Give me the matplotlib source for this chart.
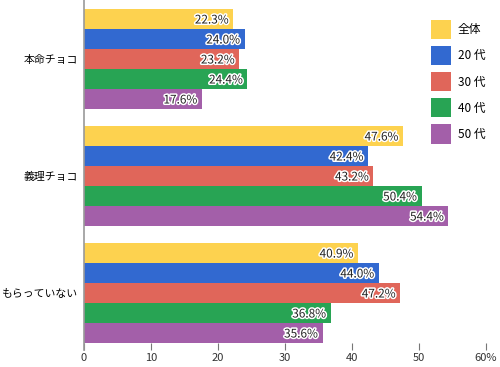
import matplotlib
matplotlib.use("Agg")
import matplotlib.pyplot as plt
import matplotlib.patheffects as pe
from matplotlib.patches import Patch

plt.rcParams['font.family'] = ['Noto Sans CJK JP', 'DejaVu Sans']

categories = ["本命チョコ", "義理チョコ", "もらっていない"]
series = ["全体", "20 代", "30 代", "40 代", "50 代"]
values = {
    "全体": [22.3, 47.6, 40.9],
    "20 代": [24.0, 42.4, 44.0],
    "30 代": [23.2, 43.2, 47.2],
    "40 代": [24.4, 50.4, 36.8],
    "50 代": [17.6, 54.4, 35.6],
}
xticks = [0, 10, 20, 30, 40, 50, 60]
xticklabels = ["0", "10", "20", "30", "40", "50", "60%"]
colors = ["#FDD24F", "#3269D0", "#E0665A", "#28A454", "#A35FA9"]

fig = plt.figure(figsize=(5, 3.67), dpi=100)
ax = fig.add_axes([0.168, 0.0654, 0.804, 0.9346])

group_gap = 5.85
first = 0.45
for si, s in enumerate(series):
    for ci, v in enumerate(values[s]):
        y = first + ci * group_gap + si + 0.5
        ax.barh(y, v, height=1.0, color=colors[si])
        t = ax.text(v - 0.7, y + 0.05, f"{v:.1f}%", ha="right", va="center",
                    fontsize=8.5, color="#222222")
        t.set_path_effects([pe.withStroke(linewidth=2.2, foreground="white")])

ax.set_ylim(17.15, 0)
ax.set_xlim(0, 60)
ax.set_yticks([first + ci * group_gap + 2.5 for ci in range(len(categories))])
ax.set_yticklabels(categories, fontsize=7.8)
ax.tick_params(axis="y", length=0, pad=4.5)
ax.set_xticks(xticks)
ax.set_xticklabels(xticklabels, fontsize=8, color="#333333")
ax.tick_params(axis="x", length=5, color="#777777", pad=2, direction="out")
for sp in ["top", "right", "bottom"]:
    ax.spines[sp].set_visible(False)
ax.spines["left"].set_color("#999999")
ax.spines["left"].set_linewidth(1.2)
ax.spines["left"].set_bounds(17.5, 0)
ax.spines["left"].set_clip_on(False)

handles = [Patch(facecolor=c, edgecolor="none") for c in colors]
leg = fig.legend(handles, series, loc="upper left", bbox_to_anchor=(0.852, 0.958),
                 frameon=False, fontsize=8.5, handlelength=1.7, handleheight=2.1,
                 labelspacing=0.6, handletextpad=0.6, borderaxespad=0)

fig.savefig("out.png", dpi=100)
